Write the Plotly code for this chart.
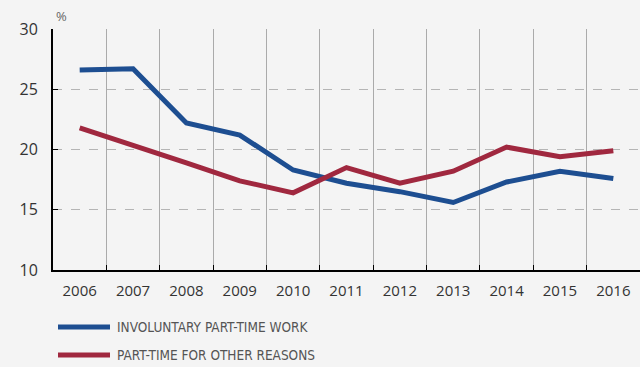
import plotly.graph_objects as go

years = ["2006", "2007", "2008", "2009", "2010", "2011", "2012", "2013", "2014", "2015", "2016"]
involuntary = [26.6, 26.7, 22.2, 21.2, 18.3, 17.2, 16.5, 15.6, 17.3, 18.2, 17.6]
other_reasons = [21.8, 20.4, 18.9, 17.4, 16.4, 18.5, 17.2, 18.2, 20.2, 19.4, 19.9]
series_names = ["INVOLUNTARY PART-TIME WORK", "PART-TIME FOR OTHER REASONS"]
y_ticks = [10, 15, 20, 25, 30]

BLUE = "#1d4e91"
RED = "#a0283f"
BG = "#f4f4f4"
colors = [BLUE, RED]

fig = go.Figure()
fig.add_trace(go.Scatter(x=years, y=involuntary, mode="lines", name=series_names[0],
                         line=dict(color=BLUE, width=5), showlegend=False))
fig.add_trace(go.Scatter(x=years, y=other_reasons, mode="lines", name=series_names[1],
                         line=dict(color=RED, width=5), showlegend=False))

# manual legend (plot area: 53..640 px wide, 29..270 px tall)
PW, PH = 587.0, 241.0
shapes, annotations = [], []
for i, (name, col) in enumerate(zip(series_names, colors)):
    ypx = 327 + i * 28
    yp = (270 - ypx) / PH
    shapes.append(dict(type="line", xref="paper", yref="paper",
                       x0=(58 - 53) / PW, x1=(110 - 53) / PW, y0=yp, y1=yp,
                       line=dict(color=col, width=5)))
    annotations.append(dict(text=name, xref="paper", yref="paper",
                            x=(115 - 53) / PW, y=yp, xanchor="left", yanchor="middle",
                            showarrow=False,
                            font=dict(family="DejaVu Sans Condensed, Liberation Sans Narrow, sans-serif",
                                      size=13.5, color="#555555")))
annotations.append(dict(text="%", xref="paper", yref="paper", x=0.0, y=1.0, xanchor="left",
                        yanchor="bottom", xshift=1, yshift=2, showarrow=False,
                        font=dict(size=13, color="#666666")))

fig.update_layout(
    width=640, height=367,
    margin=dict(l=53, r=0, t=29, b=97, autoexpand=False),
    paper_bgcolor=BG, plot_bgcolor=BG,
    font=dict(family="Open Sans", color="#333333"),
    showlegend=False,
    shapes=shapes,
    annotations=annotations,
)

fig.update_xaxes(
    type="category", range=[-0.5, 10.5], tickson="boundaries",
    showgrid=True, gridcolor="#aaaaaa", gridwidth=1,
    showline=True, linecolor="#000000", linewidth=2,
    ticks="inside", ticklen=5, tickcolor="#000000",
    tickangle=0,
    tickfont=dict(size=15, color="#333333"), ticklabelstandoff=6,
    zeroline=False, fixedrange=True,
)
fig.update_yaxes(
    range=[10, 30], tickvals=y_ticks,
    showgrid=True, gridcolor="#b5b5b5", griddash="dash", gridwidth=1,
    showline=True, linecolor="#000000", linewidth=2,
    ticks="inside", ticklen=5, tickcolor="#000000",
    tickfont=dict(size=16, color="#333333"), ticklabelstandoff=10,
    zeroline=False, fixedrange=True,
)

fig.write_html("out.html", config={"displayModeBar": False},
               post_script="document.body.style.margin='0';document.body.style.overflow='hidden';")
